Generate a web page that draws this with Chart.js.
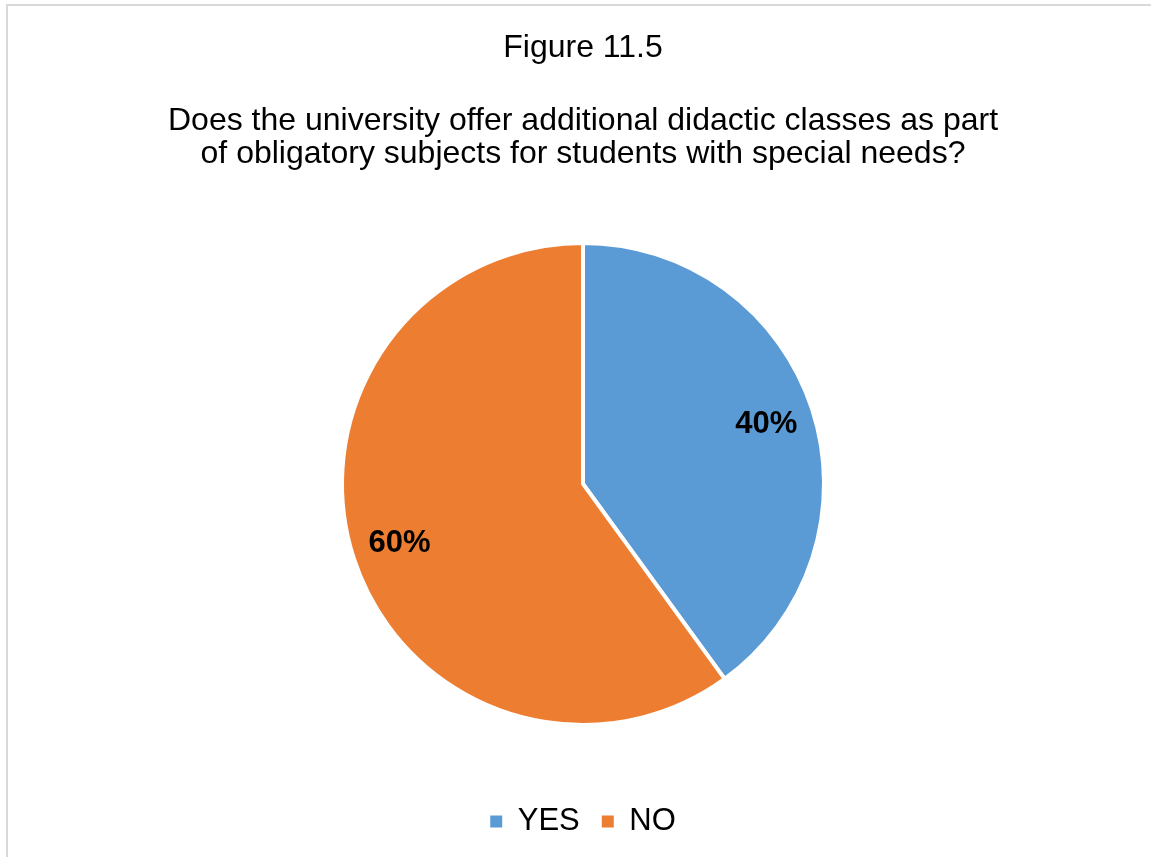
<!DOCTYPE html>
<html>
<head>
<meta charset="utf-8">
<title>Figure 11.5</title>
<script src="https://cdn.jsdelivr.net/npm/chart.js@4/dist/chart.umd.min.js"></script>
<style>
  html, body { margin: 0; padding: 0; background: #fff; }
  #wrap { width: 1151px; height: 857px; }
</style>
</head>
<body>
<div id="wrap"><canvas id="myChart"></canvas></div>
<script>
"use strict";

var labels = ["YES", "NO"];
var shares = [40, 60];
var sliceColors = ["#5B9BD5", "#ED7D31"];
var figureTitle = "Figure 11.5";
var question = [
    "Does the university offer additional didactic classes as part",
    "of obligatory subjects for students with special needs?"
];

var fontFamily = "'Liberation Sans', Arial, sans-serif";

// thin grey frame round the figure
var framePlugin = {
    id: "frame",
    beforeDraw: function (chart) {
        var ctx = chart.ctx;
        ctx.save();
        ctx.strokeStyle = "#d9d9d9";
        ctx.lineWidth = 2;
        ctx.strokeRect(7, 5, chart.width + 20, chart.height + 20);
        ctx.restore();
    }
};

// percentage labels inside each slice
var sliceLabels = {
    id: "sliceLabels",
    afterDatasetsDraw: function (chart) {
        var ctx = chart.ctx;
        var meta = chart.getDatasetMeta(0);
        var data = chart.data.datasets[0].data;
        ctx.save();
        ctx.font = "bold 31px " + fontFamily;
        ctx.fillStyle = "#000";
        ctx.textAlign = "center";
        ctx.textBaseline = "middle";
        meta.data.forEach(function (arc, i) {
            var p = arc.getProps(["x", "y", "startAngle", "endAngle", "outerRadius"], true);
            var mid = (p.startAngle + p.endAngle) / 2;
            var r = p.outerRadius * 0.8;
            ctx.fillText(data[i] + "%", p.x + Math.cos(mid) * r, p.y + Math.sin(mid) * r);
        });
        ctx.restore();
    }
};

var ctx = document.getElementById("myChart");

var myPieChart = new Chart(ctx, {
    type: "pie",
    data: {
        labels: labels,
        datasets: [{
            data: shares,
            backgroundColor: sliceColors,
            borderColor: "#ffffff",
            borderWidth: 4,
            hoverOffset: 0
        }]
    },
    options: {
        responsive: true,
        maintainAspectRatio: false,
        animation: false,
        events: [],
        radius: 241,
        layout: {
            padding: { left: 15, right: 0, top: 0, bottom: 10 }
        },
        plugins: {
            title: {
                display: true,
                text: figureTitle,
                color: "#000",
                font: { family: fontFamily, size: 32, weight: "normal", lineHeight: 1.03 },
                padding: { top: 32, bottom: 40 }
            },
            subtitle: {
                display: true,
                text: question,
                color: "#000",
                font: { family: fontFamily, size: 32, weight: "normal", lineHeight: 1.03 },
                padding: { top: 0, bottom: 13 }
            },
            legend: {
                position: "bottom",
                labels: {
                    color: "#000",
                    font: { family: fontFamily, size: 31 },
                    usePointStyle: true,
                    pointStyle: "rect",
                    boxHeight: 12,
                    boxWidth: 12,
                    padding: 22,
                    generateLabels: function (chart) {
                        var items = Chart.controllers.pie.overrides.plugins.legend.labels.generateLabels(chart);
                        items.forEach(function (it) { it.lineWidth = 0; it.strokeStyle = it.fillStyle; });
                        return items;
                    }
                }
            },
            tooltip: { enabled: false }
        }
    },
    plugins: [framePlugin, sliceLabels]
});
</script>
</body>
</html>
